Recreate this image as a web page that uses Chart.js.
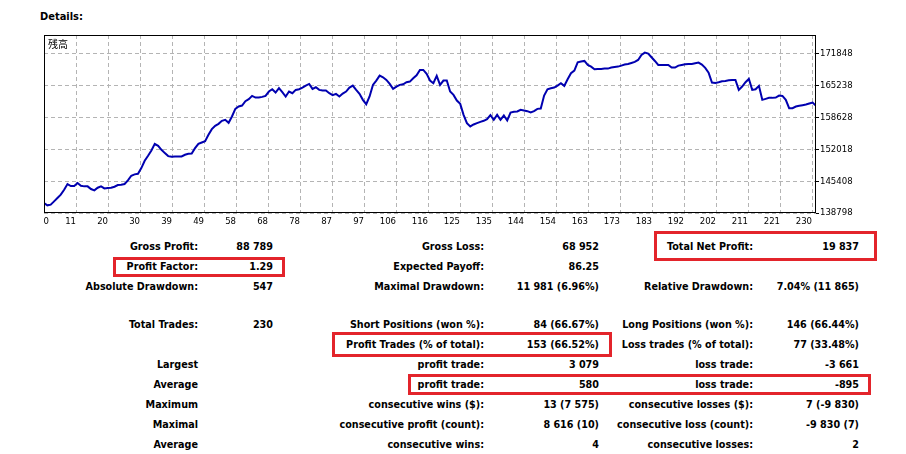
<!DOCTYPE html>
<html>
<head>
<meta charset="utf-8">
<title>Details</title>
<script src="https://cdn.jsdelivr.net/npm/chart.js@4.4.1/dist/chart.umd.min.js"></script>
<style>
    body {
        margin: 0;
        background: #fff;
        width: 906px;
        height: 454px;
        position: relative;
        overflow: hidden;
        font-family: "DejaVu Sans Condensed", "DejaVu Sans", sans-serif;
        color: #000;
    }
    #title { position: absolute; left: 40px; top: 10px; font-weight: bold; font-size: 11px; line-height: 14px; }
    #chart-box { position: absolute; left: 44px; top: 35px; width: 822px; height: 196px; }
    #balance-label { position: absolute; left: 48px; top: 38px; font-family: "Noto Sans CJK JP", sans-serif; font-size: 10px; line-height: 12px; }
    .cell { position: absolute; font-weight: bold; font-size: 10.7px; line-height: 20px; white-space: nowrap; text-align: right; }
    .mark { position: absolute; border: 3px solid #e3242b; box-sizing: border-box; }
</style>
</head>
<body>
<div id="title">Details:</div>
<div id="chart-box"><canvas id="balanceChart"></canvas></div>
<div id="balance-label">残高</div>
<div id="table"></div>
<script>
// 残高 (balance) after each trade, 0..230
const balance = [
    140860, 140380, 140520, 141210, 141900, 142590, 143620, 144790, 144380, 144380,
    144990, 144440, 144310, 144310, 143760, 143480, 144030, 144310, 143890, 143960,
    144030, 144240, 144580, 144650, 144790, 145550, 146510, 146790, 146920, 148090,
    149610, 150640, 151740, 153120, 152710, 151880, 151190, 150570, 150430, 150500,
    150500, 150500, 150850, 151050, 151120, 152220, 153120, 153390, 153670, 154980,
    156150, 156840, 157250, 157870, 158080, 157460, 158770, 160350, 160830, 161040,
    161930, 162350, 163030, 162690, 162690, 162830, 163030, 163930, 164410, 163720,
    164620, 163790, 162900, 163930, 163580, 164270, 164410, 164750, 165170, 165510,
    164480, 164820, 164270, 164130, 164130, 163580, 163170, 163450, 162900, 163520,
    163930, 164750, 165170, 164270, 163450, 162210, 161310, 162900, 165310, 166200,
    167230, 166890, 166340, 165510, 164480, 164960, 165310, 165440, 165860, 165990,
    166680, 167300, 168400, 168400, 167580, 166200, 165650, 167160, 165310, 166200,
    166200, 163930, 163240, 162070, 161380, 159110, 157390, 156700, 157110, 157390,
    157660, 157870, 158210, 159040, 158080, 159110, 158080, 158970, 157940, 159590,
    159730, 159800, 160140, 160000, 159870, 159590, 159870, 160350, 160420, 163100,
    164410, 164620, 164750, 165170, 165650, 165100, 166480, 167720, 168270, 169990,
    170130, 170260, 169440, 169090, 168540, 168610, 168610, 168680, 168680, 168890,
    169020, 169090, 169300, 169510, 169640, 169850, 170060, 170470, 171500, 171980,
    171780, 171020, 170260, 169440, 169440, 169440, 169440, 168890, 168890, 169300,
    169440, 169570, 169640, 169640, 169780, 169920, 169510, 168820, 167850, 165790,
    165720, 165860, 166060, 166130, 166270, 166340, 166340, 164270, 164960, 165860,
    166540, 164270, 164410, 165100, 162210, 162410, 162620, 162620, 162690, 163100,
    163030, 162210, 160490, 160490, 160830, 160970, 161110, 161240, 161450, 161660,
    160970
];
const trades = balance.map((_, i) => i);

const xTickLabels = ["0", "11", "20", "30", "39", "49", "58", "68", "78", "87", "97", "106",
    "116", "125", "135", "144", "154", "163", "173", "183", "192", "202", "211", "221", "230"];
const yTicks = [138798, 145408, 152018, 158628, 165238, 171848];

// statistics table
const col1Labels = ["Gross Profit:", "Profit Factor:", "Absolute Drawdown:", "Total Trades:", "",
    "Largest", "Average", "Maximum", "Maximal", "Average"];
const col1Values = ["88 789", "1.29", "547", "230", "", "", "", "", "", ""];
const col2Labels = ["Gross Loss:", "Expected Payoff:", "Maximal Drawdown:", "Short Positions (won %):",
    "Profit Trades (% of total):", "profit trade:", "profit trade:", "consecutive wins ($):",
    "consecutive profit (count):", "consecutive wins:"];
const col2Values = ["68 952", "86.25", "11 981 (6.96%)", "84 (66.67%)", "153 (66.52%)", "3 079",
    "580", "13 (7 575)", "8 616 (10)", "4"];
const col3Labels = ["Total Net Profit:", "", "Relative Drawdown:", "Long Positions (won %):",
    "Loss trades (% of total):", "loss trade:", "loss trade:", "consecutive losses ($):",
    "consecutive loss (count):", "consecutive losses:"];
const col3Values = ["19 837", "", "7.04% (11 865)", "146 (66.44%)", "77 (33.48%)", "-3 661",
    "-895", "7 (-9 830)", "-9 830 (7)", "2"];

document.addEventListener("DOMContentLoaded", () => {
    // table layout
    const rowTops = [237, 257, 277, 315, 335, 355, 375, 395, 415, 435];
    const colRights = [198, 273, 484, 599, 753, 859];
    const columns = [col1Labels, col1Values, col2Labels, col2Values, col3Labels, col3Values];
    const table = document.getElementById("table");

    columns.forEach((col, c) => {
        col.forEach((text, r) => {
            if (!text) return;
            const div = document.createElement("div");
            div.className = "cell";
            div.textContent = text;
            div.style.top = rowTops[r] + "px";
            div.style.right = (906 - colRights[c]) + "px";
            table.appendChild(div);
        });
    });

    // red highlight boxes
    const marks = [
        [113, 257, 172, 20],
        [654, 231, 223, 30],
        [332, 332, 280, 25],
        [408, 374, 463, 21]
    ];
    marks.forEach(([l, t, w, h]) => {
        const div = document.createElement("div");
        div.className = "mark";
        div.style.left = l + "px";
        div.style.top = t + "px";
        div.style.width = w + "px";
        div.style.height = h + "px";
        table.appendChild(div);
    });

    const framePlugin = {
        id: "frame",
        afterDraw(chart) {
            const { ctx, chartArea: a } = chart;
            ctx.save();
            ctx.strokeStyle = "#000";
            ctx.lineWidth = 1;
            ctx.strokeRect(a.left + 0.5, a.top + 0.5, a.width - 1, a.height - 1);
            ctx.restore();
        }
    };

    const tickFont = { family: "'DejaVu Sans Condensed', 'DejaVu Sans', sans-serif", size: 9.5 };
    const xGridStep = 9.534;

    new Chart(document.getElementById("balanceChart"), {
        type: "line",
        data: {
            datasets: [{
                label: "残高",
                data: trades.map((t, i) => ({ x: t, y: balance[i] })),
                borderColor: "#0000b0",
                borderWidth: 2,
                pointRadius: 0,
                tension: 0,
                fill: false
            }]
        },
        options: {
            responsive: true,
            maintainAspectRatio: false,
            animation: false,
            devicePixelRatio: 1,
            layout: { padding: 0 },
            plugins: {
                legend: { display: false },
                tooltip: { enabled: false }
            },
            scales: {
                x: {
                    type: "linear",
                    min: 0,
                    max: 230,
                    afterBuildTicks: (axis) => {
                        // first label sits inside the frame, the rest end at their grid line
                        axis.ticks = xTickLabels.map((_, i) => ({ value: i === 0 ? 1.5 : i * xGridStep }));
                    },
                    afterFit: (scale) => {
                        scale.height = 18;
                        scale.paddingLeft = 0;
                        scale.paddingRight = 0;
                    },
                    ticks: {
                        callback: (v, i) => xTickLabels[i],
                        align: "end",
                        autoSkip: false,
                        maxRotation: 0,
                        minRotation: 0,
                        padding: 3,
                        color: "#000",
                        font: tickFont
                    },
                    grid: {
                        color: (ctx) => (ctx.index === 0 ? "rgba(0,0,0,0)" : "#b4b4b4"),
                        lineWidth: 1,
                        drawTicks: false
                    },
                    border: { display: false, dash: [4, 3] }
                },
                y: {
                    position: "right",
                    min: 138798,
                    max: 175630,
                    afterBuildTicks: (axis) => {
                        axis.ticks = yTicks.map((v) => ({ value: v }));
                    },
                    afterFit: (scale) => {
                        scale.width = 50;
                        scale.paddingTop = 0;
                        scale.paddingBottom = 0;
                    },
                    ticks: {
                        callback: (v) => String(v),
                        padding: 1,
                        color: "#000",
                        font: tickFont
                    },
                    grid: {
                        color: "#b4b4b4",
                        lineWidth: 1,
                        drawTicks: true,
                        tickLength: 3,
                        tickColor: "#000",
                        tickBorderDash: []
                    },
                    border: { display: false, dash: [4, 3] }
                }
            }
        },
        plugins: [framePlugin]
    });
});
</script>
</body>
</html>
